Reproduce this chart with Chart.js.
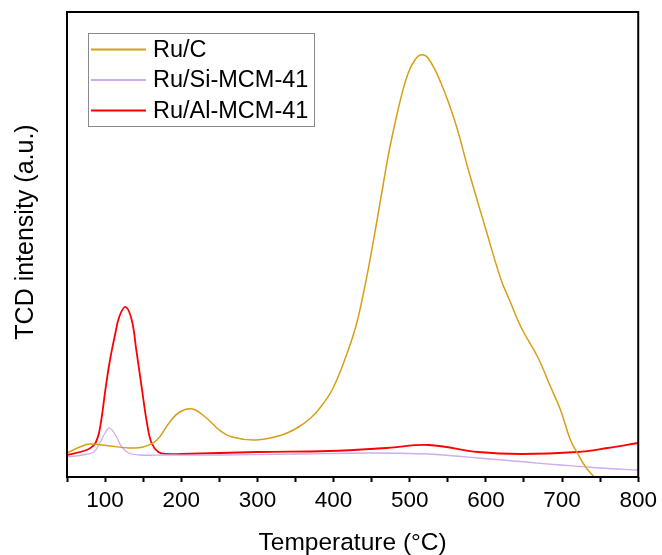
<!DOCTYPE html>
<html lang="en">
<head>
    <meta charset="UTF-8">
    <script src="https://cdn.jsdelivr.net/npm/chart.js"></script>
    <title>TPR profiles</title>
    <style>
        body { margin: 0; background: #fff; }
    </style>
</head>
<body>
    <canvas id="myChart" width="662" height="555"></canvas>
    <script>
        // temperature (°C) and TCD signal (a.u.) for each catalyst
        const ruCTemp = [50, 67, 80, 106, 132, 150, 168, 184, 198, 215, 233, 250, 267, 298, 332, 354, 370, 381, 398, 416, 429, 439, 448, 456, 465, 474, 488, 498, 506, 514, 524, 541, 560, 577, 599, 620, 631, 646, 668, 685, 698, 711, 720, 731, 742, 760];
        const ruCVal = [24, 30, 33, 31, 29, 30, 37, 54, 65, 68, 59, 47, 40, 37, 42, 50, 59, 68, 87, 120, 150, 183, 218, 252, 292, 330, 378, 404, 416, 422, 419, 394, 354, 307, 250, 197, 177, 150, 120, 90, 67, 37, 24, 10, 0, -18];

        const siTemp = [50, 70, 85, 93, 100, 106, 115, 122, 131, 145, 180, 250, 350, 450, 524, 560, 590, 652, 698, 750, 800];
        const siVal = [20, 22, 25, 34, 44, 49, 40, 30, 24, 22, 22, 22, 23, 24, 23, 21, 19, 15, 12, 9, 7];

        const alTemp = [50, 76, 84, 88, 92, 96, 100, 106, 113, 119, 127, 135, 141, 148, 155, 161, 170, 181, 200, 300, 394, 470, 525, 590, 646, 720, 760, 800];
        const alVal = [22, 27, 31, 35, 44, 62, 85, 115, 142, 161, 170, 157, 127, 90, 54, 34, 25, 23, 23, 25, 26, 29, 32, 25, 23, 25, 29, 34];

        const fontFamily = "'Liberation Sans', Arial, sans-serif";

        function toPoints(xs, ys) {
            return xs.map((x, i) => ({ x: x, y: ys[i] }));
        }

        // black frame around the plot area
        const frame = {
            id: 'frame',
            afterDraw(chart) {
                const a = chart.chartArea;
                const ctx = chart.ctx;
                ctx.save();
                ctx.strokeStyle = '#000';
                ctx.lineWidth = 2;
                ctx.strokeRect(a.left, a.top, a.right - a.left, a.bottom - a.top);
                ctx.restore();
            }
        };

        // vertical axis title, sitting a little above the plot's middle
        const yTitle = {
            id: 'yTitle',
            afterDraw(chart) {
                const ctx = chart.ctx;
                ctx.save();
                ctx.translate(33, 232);
                ctx.rotate(-Math.PI / 2);
                ctx.font = '25px ' + fontFamily;
                ctx.fillStyle = '#000';
                ctx.textAlign = 'center';
                ctx.textBaseline = 'alphabetic';
                ctx.fillText('TCD intensity (a.u.)', 0, 0);
                ctx.restore();
            }
        };

        // boxed legend in the upper left corner of the plot
        const boxLegend = {
            id: 'boxLegend',
            afterDraw(chart) {
                const ctx = chart.ctx;
                const sets = chart.data.datasets;
                const x0 = 88.5, y0 = 33.5, w = 226, h = 93;
                ctx.save();
                ctx.fillStyle = '#fff';
                ctx.fillRect(x0, y0, w, h);
                ctx.strokeStyle = '#8a8a8a';
                ctx.lineWidth = 1;
                ctx.strokeRect(x0, y0, w, h);
                ctx.font = '23.5px ' + fontFamily;
                ctx.textBaseline = 'middle';
                sets.forEach((ds, i) => {
                    const y = 49.5 + i * 30.5;
                    ctx.strokeStyle = ds.borderColor;
                    ctx.lineWidth = 2;
                    ctx.beginPath();
                    ctx.moveTo(91, y);
                    ctx.lineTo(146, y);
                    ctx.stroke();
                    ctx.fillStyle = '#000';
                    ctx.fillText(ds.label, 153, y + 1);
                });
                ctx.restore();
            }
        };

        const ctx = document.getElementById('myChart');
        new Chart(ctx, {
            type: 'line',
            data: {
                datasets: [{
                    label: 'Ru/C',
                    data: toPoints(ruCTemp, ruCVal),
                    borderColor: 'rgb(214,160,20)',
                    borderWidth: 1.5
                }, {
                    label: 'Ru/Si-MCM-41',
                    data: toPoints(siTemp, siVal),
                    borderColor: 'rgb(205,172,240)',
                    borderWidth: 1.3
                }, {
                    label: 'Ru/Al-MCM-41',
                    data: toPoints(alTemp, alVal),
                    borderColor: 'rgb(255,0,0)',
                    borderWidth: 1.8
                }]
            },
            options: {
                responsive: false,
                animation: false,
                layout: { padding: { top: 12, right: 21, left: 0, bottom: 0 } },
                elements: {
                    point: { radius: 0 },
                    line: { tension: 0.4, fill: false }
                },
                plugins: {
                    legend: { display: false },
                    tooltip: { enabled: false }
                },
                scales: {
                    x: {
                        type: 'linear',
                        min: 50,
                        max: 800,
                        afterFit(scale) { scale.height = 78; },
                        border: { display: false },
                        grid: {
                            drawOnChartArea: false,
                            drawTicks: true,
                            tickLength: 5,
                            tickWidth: 2,
                            color: '#000'
                        },
                        ticks: {
                            stepSize: 50,
                            autoSkip: false,
                            maxRotation: 0,
                            padding: 5,
                            color: '#000',
                            font: { family: fontFamily, size: 22.5 },
                            callback: (v) => (v % 100 === 0 ? v : '')
                        },
                        title: {
                            display: true,
                            text: 'Temperature (°C)',
                            color: '#000',
                            font: { family: fontFamily, size: 24.5 },
                            padding: { top: 0, bottom: -3 }
                        }
                    },
                    y: {
                        min: 0,
                        max: 465,
                        afterFit(scale) { scale.width = 67; },
                        border: { display: false },
                        grid: { display: false },
                        ticks: { display: false },
                        title: { display: false }
                    }
                }
            },
            plugins: [frame, yTitle, boxLegend]
        });
    </script>
</body>
</html>
